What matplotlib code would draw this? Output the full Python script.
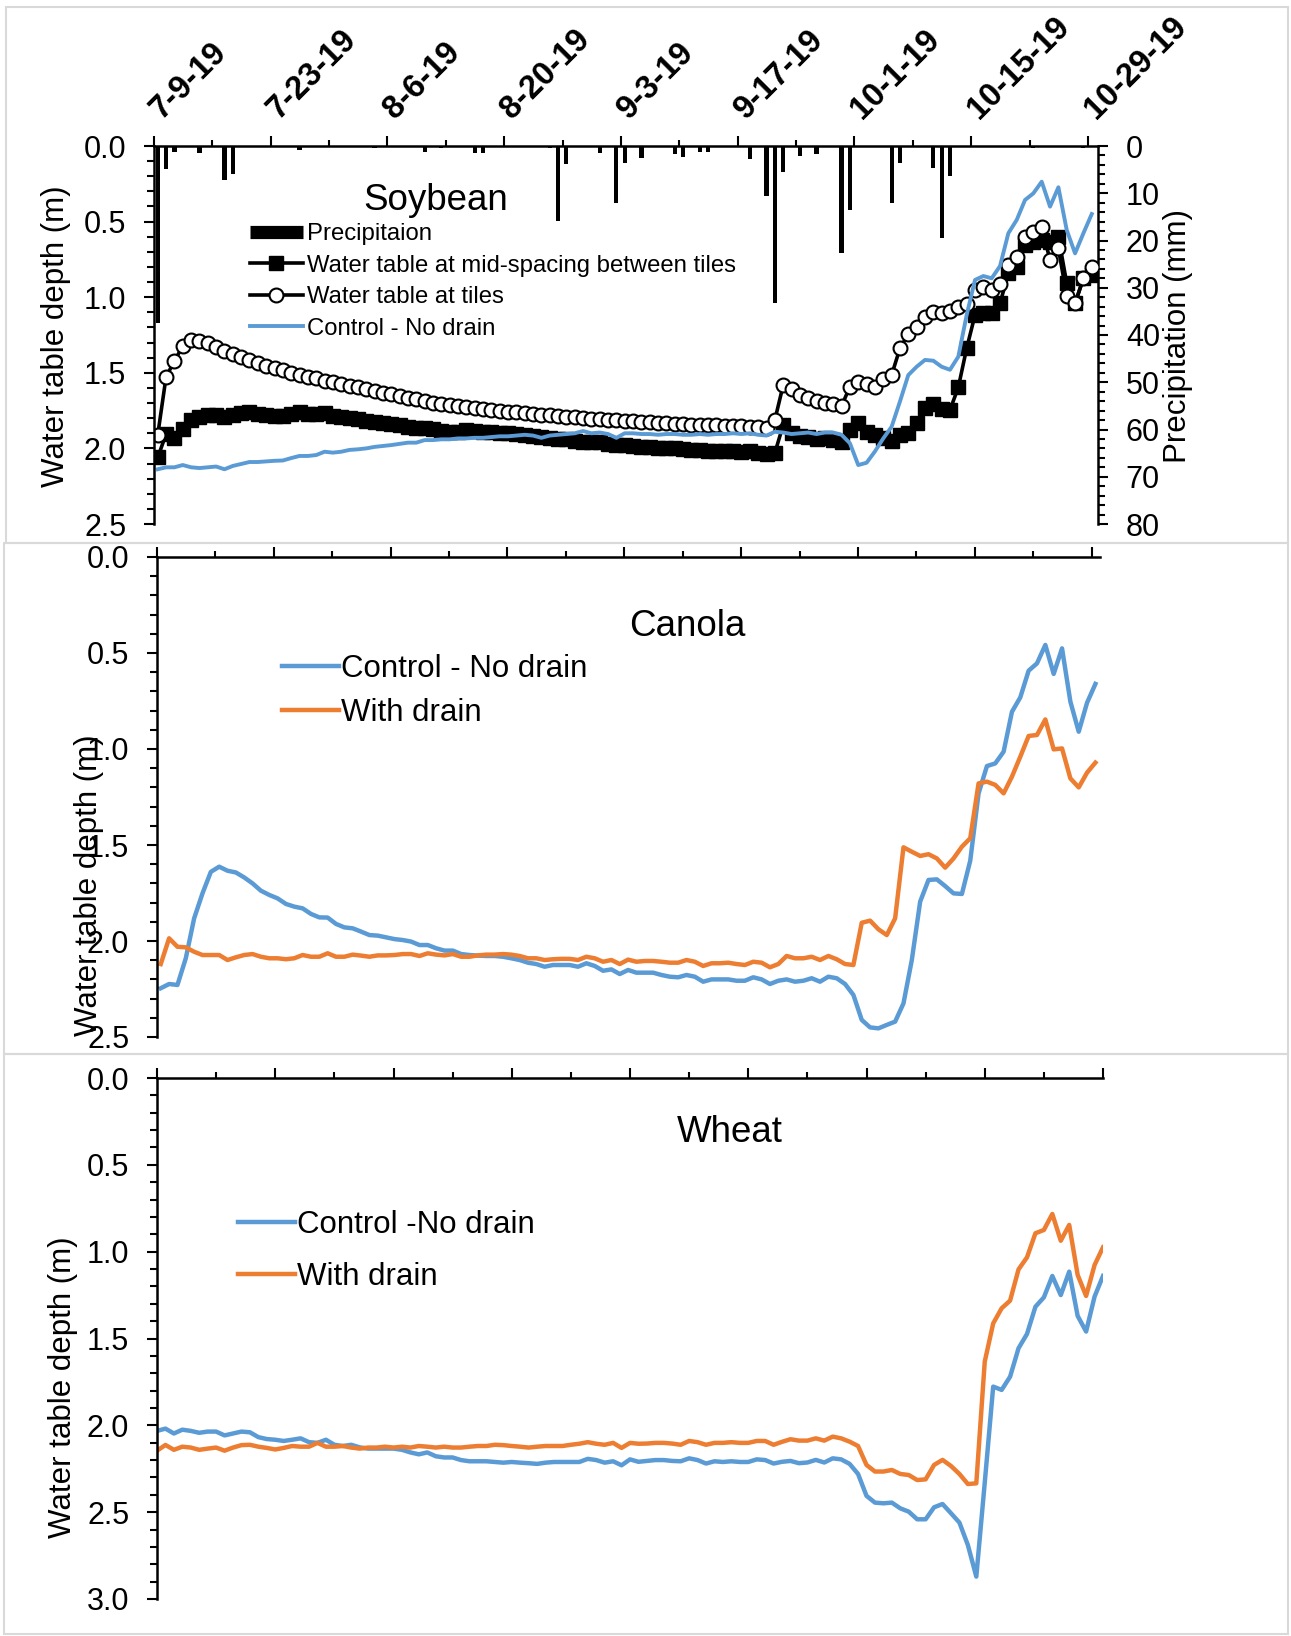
import numpy as np
import matplotlib
matplotlib.use("Agg")
import matplotlib.pyplot as plt
from matplotlib.lines import Line2D
from matplotlib.patches import Rectangle
from matplotlib.ticker import MultipleLocator, FormatStrFormatter
from matplotlib.transforms import ScaledTranslation

plt.rcParams['font.family'] = ['Liberation Sans', 'DejaVu Sans']

W, H = 1291, 1636
BLUE = '#5B9BD5'
ORANGE = '#ED7D31'

# x axis: days since 7-9-19, one value per day up to 10-29-19
date_labels = ['7-9-19', '7-23-19', '8-6-19', '8-20-19', '9-3-19',
               '9-17-19', '10-1-19', '10-15-19', '10-29-19']
days = np.arange(113)

# daily rain (mm), only the days with rain
rain_day = [0, 1, 2, 5, 8, 9, 17, 19, 26, 32, 34, 38, 39, 45, 47, 48, 49, 51, 53,
            55, 56, 58, 62, 63, 65, 66, 71, 73, 74, 75, 77, 79, 82, 83, 88, 89,
            93, 94, 95, 98, 105, 111]
rain_mm = [37.5, 4.8, 1.2, 1.5, 7.3, 5.9, 0.8, 0.3, 0.4, 1.3, 0.5, 1.4, 1.4, 0.3, 0.5,
           15.8, 3.8, 0.3, 1.4, 12.0, 3.5, 2.6, 1.7, 2.4, 1.2, 1.2, 2.8, 10.6, 33.2,
           5.4, 2.1, 1.6, 22.7, 13.5, 12.1, 3.5, 4.7, 19.5, 6.3, 0.3, 0.4, 0.4]

# soybean water table depth (m)
soy_mid = [2.06, 1.905, 1.93, 1.87, 1.81, 1.79, 1.78, 1.78, 1.79, 1.78,
           1.764, 1.757, 1.77, 1.78, 1.786, 1.786, 1.77, 1.757, 1.77, 1.77,
           1.764, 1.786, 1.795, 1.80, 1.808, 1.817, 1.823, 1.83, 1.839, 1.848,
           1.856, 1.867, 1.867, 1.874, 1.883, 1.89, 1.89, 1.878, 1.885, 1.89,
           1.89, 1.895, 1.90, 1.905, 1.91, 1.92, 1.925, 1.93, 1.935, 1.94,
           1.95, 1.955, 1.96, 1.96, 1.97, 1.975, 1.98, 1.985, 1.99, 1.99,
           1.995, 2.0, 2.0, 2.005, 2.01, 2.01, 2.015, 2.02, 2.02, 2.02,
           2.025, 2.02, 2.03, 2.04, 2.03, 1.845, 1.90, 1.918, 1.923, 1.94,
           1.934, 1.945, 1.96, 1.878, 1.834, 1.89, 1.912, 1.934, 1.949, 1.912,
           1.90, 1.834, 1.734, 1.706, 1.742, 1.746, 1.596, 1.338, 1.118, 1.102,
           1.107, 1.041, 0.842, 0.798, 0.655, 0.633, 0.622, 0.633, 0.60, 0.908,
           1.041, 0.875, 0.853]
soy_tile = [1.91, 1.526, 1.422, 1.323, 1.283, 1.287, 1.305, 1.332, 1.354, 1.376,
            1.393, 1.415, 1.437, 1.455, 1.468, 1.481, 1.499, 1.512, 1.526, 1.537,
            1.552, 1.563, 1.574, 1.587, 1.596, 1.609, 1.618, 1.631, 1.640, 1.653,
            1.667, 1.675, 1.684, 1.697, 1.706, 1.715, 1.72, 1.727, 1.733, 1.74,
            1.746, 1.752, 1.757, 1.762, 1.767, 1.772, 1.777, 1.782, 1.787, 1.791,
            1.795, 1.799, 1.803, 1.807, 1.811, 1.815, 1.818, 1.821, 1.824, 1.827,
            1.83, 1.833, 1.836, 1.839, 1.842, 1.844, 1.846, 1.848, 1.85, 1.852,
            1.854, 1.856, 1.858, 1.862, 1.812, 1.581, 1.609, 1.647, 1.669, 1.684,
            1.697, 1.706, 1.719, 1.592, 1.559, 1.574, 1.592, 1.543, 1.515, 1.338,
            1.243, 1.195, 1.133, 1.096, 1.102, 1.091, 1.063, 1.045, 0.952, 0.935,
            0.952, 0.913, 0.787, 0.732, 0.604, 0.566, 0.538, 0.754, 0.677, 0.992,
            1.041, 0.875, 0.798]
soy_ctrl = [2.138, 2.125, 2.125, 2.11, 2.125, 2.13, 2.125, 2.12, 2.138, 2.116,
            2.103, 2.09, 2.09, 2.086, 2.082, 2.08, 2.064, 2.05, 2.05, 2.044,
            2.022, 2.028, 2.022, 2.01, 2.006, 2.0, 1.99, 1.984, 1.978, 1.97,
            1.962, 1.962, 1.945, 1.945, 1.94, 1.94, 1.934, 1.934, 1.93, 1.93,
            1.925, 1.92, 1.92, 1.915, 1.91, 1.915, 1.93, 1.915, 1.91, 1.905,
            1.90, 1.885, 1.90, 1.895, 1.905, 1.93, 1.90, 1.90, 1.905, 1.905,
            1.91, 1.905, 1.905, 1.91, 1.91, 1.905, 1.91, 1.905, 1.905, 1.90,
            1.905, 1.90, 1.91, 1.915, 1.89, 1.895, 1.905, 1.90, 1.895, 1.905,
            1.895, 1.895, 1.91, 1.966, 2.11, 2.095, 2.02, 1.934, 1.857, 1.69,
            1.515, 1.46, 1.415, 1.42, 1.46, 1.48, 1.393, 1.118, 0.886, 0.86,
            0.875, 0.794, 0.577, 0.489, 0.357, 0.313, 0.236, 0.401, 0.273, 0.556,
            0.71, 0.577, 0.45]

# canola water table depth (m)
can_ctrl = [2.246, 2.224, 2.229, 2.09, 1.882, 1.752, 1.64, 1.613, 1.634, 1.643,
            1.669, 1.70, 1.738, 1.76, 1.778, 1.807, 1.821, 1.83, 1.859, 1.877,
            1.878, 1.911, 1.929, 1.934, 1.951, 1.969, 1.972, 1.981, 1.99, 1.995,
            2.003, 2.021, 2.021, 2.038, 2.05, 2.05, 2.068, 2.073, 2.076, 2.078,
            2.078, 2.082, 2.09, 2.099, 2.113, 2.12, 2.134, 2.125, 2.125, 2.125,
            2.134, 2.116, 2.13, 2.155, 2.148, 2.172, 2.151, 2.165, 2.165, 2.165,
            2.177, 2.186, 2.189, 2.177, 2.186, 2.212, 2.2, 2.2, 2.2, 2.207,
            2.207, 2.189, 2.2, 2.224, 2.207, 2.2, 2.212, 2.207, 2.194, 2.212,
            2.186, 2.194, 2.224, 2.281, 2.411, 2.45, 2.455, 2.437, 2.42, 2.325,
            2.099, 1.795, 1.682, 1.679, 1.714, 1.752, 1.755, 1.582, 1.231, 1.089,
            1.075, 1.014, 0.806, 0.731, 0.592, 0.554, 0.458, 0.609, 0.476, 0.753,
            0.91, 0.759, 0.661]
can_drain = [2.12, 1.986, 2.03, 2.033, 2.056, 2.073, 2.073, 2.073, 2.099, 2.085,
             2.073, 2.068, 2.082, 2.09, 2.09, 2.095, 2.09, 2.073, 2.082, 2.082,
             2.064, 2.082, 2.082, 2.071, 2.076, 2.082, 2.075, 2.075, 2.073, 2.068,
             2.068, 2.078, 2.064, 2.071, 2.075, 2.068, 2.082, 2.082, 2.075, 2.071,
             2.071, 2.068, 2.071, 2.078, 2.09, 2.09, 2.099, 2.095, 2.093, 2.093,
             2.099, 2.082, 2.09, 2.108, 2.099, 2.12, 2.097, 2.108, 2.104, 2.104,
             2.108, 2.113, 2.113, 2.099, 2.108, 2.13, 2.116, 2.116, 2.113, 2.12,
             2.125, 2.108, 2.113, 2.137, 2.12, 2.078, 2.09, 2.09, 2.082, 2.099,
             2.078, 2.095, 2.12, 2.125, 1.905, 1.894, 1.939, 1.969, 1.882, 1.512,
             1.535, 1.557, 1.548, 1.57, 1.618, 1.57, 1.509, 1.465, 1.179, 1.17,
             1.187, 1.231, 1.144, 1.04, 0.932, 0.927, 0.846, 1.002, 0.997, 1.153,
             1.2, 1.123, 1.071]

# wheat water table depth (m)
wht_ctrl = [2.032, 2.019, 2.047, 2.025, 2.032, 2.043, 2.036, 2.036, 2.058, 2.047,
            2.036, 2.04, 2.068, 2.079, 2.083, 2.09, 2.083, 2.075, 2.097, 2.101,
            2.083, 2.112, 2.119, 2.112, 2.127, 2.134, 2.134, 2.134, 2.134, 2.141,
            2.156, 2.167, 2.156, 2.178, 2.185, 2.185, 2.2, 2.207, 2.207, 2.207,
            2.211, 2.215, 2.211, 2.215, 2.218, 2.222, 2.215, 2.211, 2.211, 2.211,
            2.211, 2.193, 2.2, 2.215, 2.207, 2.23, 2.196, 2.21, 2.205, 2.2,
            2.2, 2.205, 2.207, 2.19, 2.2, 2.22, 2.207, 2.211, 2.207, 2.211,
            2.211, 2.196, 2.2, 2.22, 2.21, 2.205, 2.218, 2.214, 2.199, 2.214,
            2.19, 2.196, 2.222, 2.28, 2.406, 2.445, 2.449, 2.445, 2.478, 2.497,
            2.541, 2.541, 2.472, 2.453, 2.506, 2.56, 2.689, 2.871, 2.33, 1.777,
            1.796, 1.72, 1.556, 1.474, 1.317, 1.263, 1.14, 1.25, 1.115, 1.37,
            1.46, 1.259, 1.14]
wht_drain = [2.146, 2.113, 2.141, 2.123, 2.128, 2.141, 2.134, 2.128, 2.146, 2.128,
             2.114, 2.112, 2.123, 2.13, 2.139, 2.13, 2.119, 2.123, 2.123, 2.101,
             2.123, 2.123, 2.119, 2.128, 2.134, 2.128, 2.128, 2.123, 2.128, 2.123,
             2.128, 2.119, 2.123, 2.128, 2.123, 2.128, 2.128, 2.123, 2.119, 2.119,
             2.112, 2.114, 2.119, 2.123, 2.128, 2.123, 2.119, 2.119, 2.119, 2.112,
             2.106, 2.097, 2.106, 2.112, 2.101, 2.13, 2.101, 2.106, 2.105, 2.101,
             2.101, 2.105, 2.112, 2.09, 2.097, 2.112, 2.101, 2.101, 2.097, 2.101,
             2.101, 2.09, 2.09, 2.112, 2.095, 2.08, 2.088, 2.088, 2.075, 2.088,
             2.065, 2.075, 2.094, 2.119, 2.228, 2.266, 2.266, 2.257, 2.28, 2.286,
             2.315, 2.311, 2.228, 2.199, 2.234, 2.28, 2.338, 2.334, 1.633, 1.413,
             1.326, 1.282, 1.102, 1.033, 0.894, 0.875, 0.783, 0.937, 0.846, 1.134,
             1.255, 1.077, 0.975]


fig = plt.figure(figsize=(W / 100, H / 100), dpi=100)

# light grey chart-area borders
for x0, y0, x1, y1 in [(6, 7, 1288, 543), (4, 543, 1288, 1054), (4, 1054, 1288, 1634)]:
    fig.add_artist(Rectangle((x0 / W, 1 - y1 / H), (x1 - x0) / W, (y1 - y0) / H,
                             transform=fig.transFigure, fill=False,
                             edgecolor='#d9d9d9', lw=1.5, zorder=0))


def px_axes(left, top, right, bottom):
    return fig.add_axes([left / W, 1 - bottom / H, (right - left) / W, (bottom - top) / H])


def style_depth(ax, ymax, xmax):
    ax.set_facecolor('none')
    ax.set_ylim(ymax, 0)
    ax.set_xlim(0, xmax)
    ax.yaxis.set_major_locator(MultipleLocator(0.5))
    ax.yaxis.set_minor_locator(MultipleLocator(0.1))
    ax.yaxis.set_major_formatter(FormatStrFormatter('%.1f'))
    ax.xaxis.set_major_locator(MultipleLocator(14))
    ax.xaxis.set_minor_locator(MultipleLocator(7))
    ax.xaxis.tick_top()
    ax.spines['bottom'].set_visible(False)
    ax.spines['right'].set_visible(False)
    for s in ('top', 'left'):
        ax.spines[s].set_linewidth(1.8)
    ax.tick_params(axis='y', which='major', length=7, width=1.5, labelsize=22, pad=13)
    ax.tick_params(axis='y', which='minor', length=5, width=1.5)
    ax.tick_params(axis='x', which='major', length=7, width=1.5)
    ax.tick_params(axis='x', which='minor', length=4, width=1.5)


def fig_text(x, y, s, **kw):
    fig.text(x / W, 1 - y / H, s, ha='center', va='center', **kw)


# ---------------- Soybean ----------------
ax1 = px_axes(154, 146, 1098, 524)
ax1r = ax1.twinx()
style_depth(ax1, 2.5, 113.2)
ax1.set_zorder(ax1r.get_zorder() + 1)

ax1r.bar(np.array(rain_day) + 0.45, rain_mm, width=0.5, color='black')
ax1r.set_ylim(80, 0)
ax1r.yaxis.set_major_locator(MultipleLocator(10))
ax1r.yaxis.set_minor_locator(MultipleLocator(2))
for s in ('top', 'bottom', 'left'):
    ax1r.spines[s].set_visible(False)
ax1r.spines['right'].set_linewidth(1.8)
ax1r.tick_params(axis='y', which='major', length=7, width=1.5, labelsize=22, pad=13)
ax1r.tick_params(axis='y', which='minor', length=5, width=1.5)

xs = days + 0.45
l_mid, = ax1.plot(xs, soy_mid, color='black', lw=2.6, marker='s', ms=10.5,
                  mfc='black', mec='black')
l_tile, = ax1.plot(xs, soy_tile, color='black', lw=2.6, marker='o', ms=10,
                   mfc='white', mec='black', mew=1.5)
l_ctrl, = ax1.plot(xs, soy_ctrl, color=BLUE, lw=2.8)

ax1.set_xticks(np.arange(0, 113, 14))
ax1.set_xticklabels(date_labels)
ax1.tick_params(axis='x', which='major', labelsize=23.5, pad=12)
shift = ScaledTranslation(8 / 100, 0, fig.dpi_scale_trans)
for lbl in ax1.get_xticklabels():
    lbl.set_rotation(45)
    lbl.set_ha('left')
    lbl.set_va('baseline')
    lbl.set_rotation_mode('anchor')
    lbl.set_fontweight('bold')
    lbl.set_transform(lbl.get_transform() + shift)

h_rain = Line2D([], [], color='black', lw=9.5, solid_capstyle='butt')
ax1.legend([h_rain, l_mid, l_tile, l_ctrl],
           ['Precipitaion', 'Water table at mid-spacing between tiles',
            'Water table at tiles', 'Control - No drain'],
           loc='upper left', bbox_to_anchor=(250 / W, 1 - 223 / H),
           bbox_transform=fig.transFigure, frameon=False, fontsize=17.2,
           handlelength=2.2, handletextpad=0.2, labelspacing=0.4,
           borderpad=0, borderaxespad=0)

fig_text(436, 201, 'Soybean', fontsize=26.5)
fig_text(56, 336, 'Water table depth (m)', fontsize=22.5, rotation=90)
fig_text(1178, 336, 'Precipitation (mm)', fontsize=22.5, rotation=90)

# ---------------- Canola ----------------
ax2 = px_axes(157, 557, 1100, 1037)
style_depth(ax2, 2.5, 113.0)
ax2.tick_params(axis='x', labeltop=False, labelbottom=False)
c1, = ax2.plot(xs, can_ctrl, color=BLUE, lw=3.2)
c2, = ax2.plot(xs, can_drain, color=ORANGE, lw=3.2)
ax2.legend([c1, c2], ['Control - No drain', 'With drain'],
           loc='upper left', bbox_to_anchor=(282 / W, 1 - 654 / H),
           bbox_transform=fig.transFigure, frameon=False, fontsize=22.5,
           handlelength=1.82, handletextpad=0.07, labelspacing=0.46,
           borderpad=0, borderaxespad=0)
fig_text(687, 627, 'Canola', fontsize=26.5)
fig_text(89, 885, 'Water table depth (m)', fontsize=22.5, rotation=90)

# ---------------- Wheat ----------------
ax3 = px_axes(157, 1078, 1103, 1599)
style_depth(ax3, 3.0, 112)
ax3.tick_params(axis='x', labeltop=False, labelbottom=False)
w1, = ax3.plot(days, wht_ctrl, color=BLUE, lw=3.2)
w2, = ax3.plot(days, wht_drain, color=ORANGE, lw=3.2)
ax3.legend([w1, w2], ['Control -No drain', 'With drain'],
           loc='upper left', bbox_to_anchor=(238 / W, 1 - 1210 / H),
           bbox_transform=fig.transFigure, frameon=False, fontsize=22.5,
           handlelength=1.82, handletextpad=0.08, labelspacing=0.7,
           borderpad=0, borderaxespad=0)
fig_text(730, 1132, 'Wheat', fontsize=26.5)
fig_text(63, 1387, 'Water table depth (m)', fontsize=22.5, rotation=90)

fig.savefig('out.png', dpi=100)
